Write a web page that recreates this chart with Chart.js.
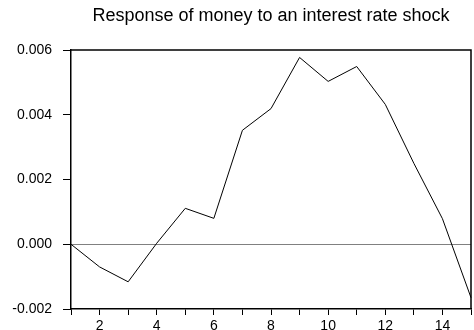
<!DOCTYPE html>
<html lang="en">
<head>
  <meta charset="UTF-8">
  <title>Response of money</title>
  <script src="https://cdn.jsdelivr.net/npm/chart.js"></script>
  <style>
    html, body { margin: 0; padding: 0; background: #fff; }
  </style>
</head>
<body>
  <canvas id="irf" width="474" height="330"></canvas>
  <script>
    // periods after the shock and the response
    const periods = [1, 2, 3, 4, 5, 6, 7, 8, 9, 10, 11, 12, 13, 14, 15];
    const response = [0.0000, -0.0007, -0.00116, 0.00003, 0.00111, 0.0008, 0.00352,
                      0.00419, 0.00577, 0.00503, 0.00549, 0.00432, 0.0025, 0.00079, -0.00165];
    const yTicks = [-0.002, 0.000, 0.002, 0.004, 0.006];

    // frame: top and right edges of the plot box
    const framePlugin = {
      id: 'frame',
      afterDraw(chart) {
        const { ctx, chartArea: a } = chart;
        ctx.save();
        ctx.strokeStyle = '#000';
        ctx.lineWidth = 1.5;
        ctx.beginPath();
        ctx.moveTo(a.left, a.top);
        ctx.lineTo(a.right, a.top);
        ctx.lineTo(a.right, a.bottom);
        ctx.stroke();
        ctx.restore();
      }
    };

    new Chart(document.getElementById('irf'), {
      type: 'line',
      data: {
        datasets: [{
          data: periods.map((p, i) => ({ x: p, y: response[i] })),
          borderColor: '#000',
          borderWidth: 1,
          pointRadius: 0,
          tension: 0,
          clip: false
        }]
      },
      options: {
        responsive: false,
        animation: false,
        layout: { padding: { left: 0, right: 1, top: 0, bottom: 0 } },
        plugins: {
          legend: { display: false },
          tooltip: { enabled: false },
          title: {
            display: true,
            fullSize: false,
            text: 'Response of money to an interest rate shock',
            color: '#000',
            font: { family: 'Liberation Sans', size: 18, weight: 'normal' },
            padding: { top: 5.2, bottom: 23.2 }
          }
        },
        scales: {
          x: {
            type: 'linear',
            min: 1,
            max: 15,
            afterFit(scale) { scale.height = 21; },
            border: { display: true, color: '#000', width: 1.5 },
            grid: { drawOnChartArea: false, tickLength: 6, color: '#000' },
            ticks: {
              stepSize: 1,
              autoSkip: false,
              maxRotation: 0,
              padding: 3,
              color: '#000',
              font: { family: 'Liberation Sans', size: 14 },
              callback: v => (v % 2 === 0 ? String(v) : '')
            }
          },
          y: {
            min: -0.002,
            max: 0.006,
            afterFit(scale) { scale.width = 71; },
            afterBuildTicks(scale) { scale.ticks = yTicks.map(v => ({ value: v })); },
            border: { display: true, color: '#000', width: 1.5 },
            grid: {
              tickLength: 8,
              tickColor: '#000',
              color: c => (c.tick && Math.abs(c.tick.value) < 1e-12 ? '#808080' : 'rgba(0,0,0,0)'),
              lineWidth: 1
            },
            ticks: {
              padding: 11,
              color: '#000',
              font: { family: 'Liberation Sans', size: 14 },
              callback: v => v.toFixed(3)
            }
          }
        }
      },
      plugins: [framePlugin]
    });
  </script>
</body>
</html>
